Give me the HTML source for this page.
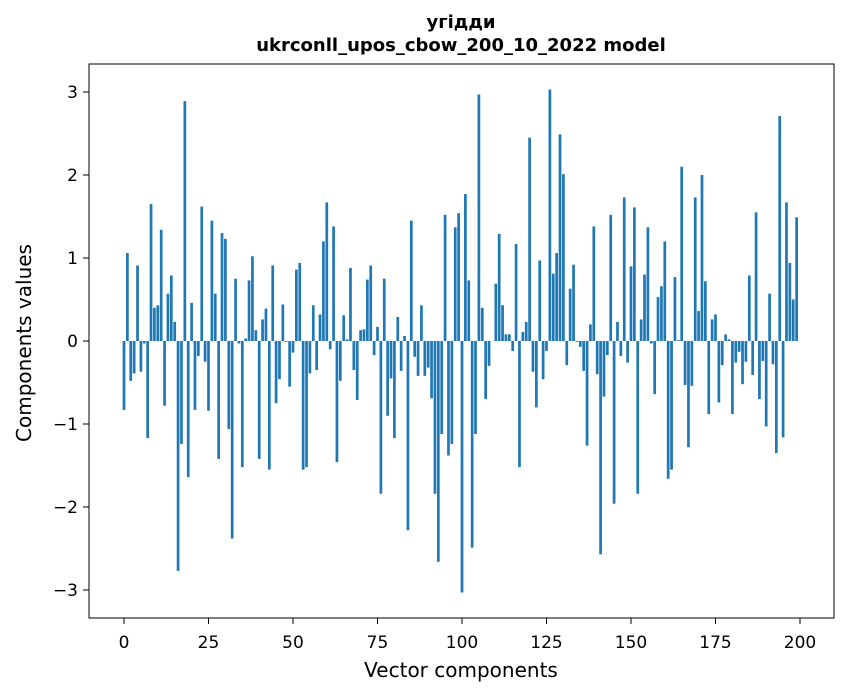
<!DOCTYPE html>
<html><head><meta charset="utf-8"><style>
html,body{margin:0;padding:0;background:#fff;}
svg{display:block;font-family:"DejaVu Sans","Liberation Sans",sans-serif;}
</style></head><body>
<svg id="chart" width="847" height="696" viewBox="0 0 847 696">
<rect x="0" y="0" width="847" height="696" fill="#fff"/>
<text x="461" y="28" text-anchor="middle" font-size="18" font-weight="bold">угідди</text>
<text x="461" y="51" text-anchor="middle" font-size="18" font-weight="bold">ukrconll_upos_cbow_200_10_2022 model</text>
<g id="bars"></g>
<rect x="89" y="64" width="745" height="554" fill="none" stroke="#000" stroke-width="1"/>
<g id="xticks"></g>
<g id="yticks"></g>
<text x="461" y="677" text-anchor="middle" font-size="20">Vector components</text>
<text x="31" y="343" text-anchor="middle" font-size="20" transform="rotate(-90 31 343)">Components values</text>
</svg>
<script>
const values = [
-0.83,1.06,-0.48,-0.39,0.91,-0.37,-0.03,-1.17,1.65,0.40,
0.43,1.34,-0.78,0.57,0.79,0.23,-2.77,-1.24,2.89,-1.64,
0.46,-0.83,-0.18,1.62,-0.25,-0.84,1.45,0.57,-1.42,1.30,
1.23,-1.06,-2.38,0.75,-0.03,-1.52,0.03,0.73,1.02,0.13,
-1.42,0.26,0.39,-1.55,0.91,-0.75,-0.46,0.44,-0.01,-0.55,
-0.14,0.86,0.94,-1.55,-1.52,-0.39,0.43,-0.35,0.32,1.20,
1.67,-0.10,1.38,-1.46,-0.48,0.31,0.02,0.88,-0.35,-0.71,
0.13,0.14,0.74,0.91,-0.17,0.17,-1.84,0.75,-0.90,-0.45,
-1.17,0.29,-0.36,0.06,-2.28,1.45,-0.19,-0.42,0.43,-0.42,
-0.32,-0.69,-1.84,-2.66,-1.12,1.52,-1.38,-1.24,1.37,1.54,
-3.03,1.77,0.73,-2.49,-1.12,2.97,0.40,-0.70,-0.30,0.00,
0.69,1.29,0.43,0.08,0.08,-0.12,1.17,-1.52,0.11,0.23,
2.45,-0.37,-0.80,0.97,-0.46,-0.12,3.03,0.81,1.06,2.49,
2.01,-0.29,0.63,0.92,-0.01,-0.07,-0.36,-1.26,0.20,1.38,
-0.40,-2.57,-0.67,-0.17,1.52,-1.96,0.23,-0.18,1.73,-0.26,
0.90,1.61,-1.84,0.26,0.80,1.37,-0.03,-0.64,0.53,0.66,
1.20,-1.66,-1.55,0.77,0.01,2.10,-0.53,-1.28,-0.54,1.73,
0.36,2.00,0.72,-0.88,0.26,0.32,-0.74,-0.29,0.08,0.02,
-0.88,-0.26,-0.13,-0.52,-0.25,0.79,-0.41,1.55,-0.70,-0.24,
-1.03,0.57,-0.28,-1.35,2.71,-1.16,1.67,0.94,0.50,1.49
];
const xTickValues = [0,25,50,75,100,125,150,175,200];
const yTickValues = [-3,-2,-1,0,1,2,3];
const NS = "http://www.w3.org/2000/svg";
function xScale(v){ return 124 + v * 3.38; }
function yScale(v){ return 341 - v * 83; }
const barsG = document.getElementById('bars');
values.forEach(function(v, i){
  const r = document.createElementNS(NS, 'rect');
  const w = 0.8 * 3.38;
  r.setAttribute('x', xScale(i) - w/2);
  r.setAttribute('width', w);
  r.setAttribute('y', Math.min(yScale(v), yScale(0)));
  r.setAttribute('height', Math.abs(yScale(v) - yScale(0)));
  r.setAttribute('fill', '#1f77b4');
  
  
  barsG.appendChild(r);
});
const xg = document.getElementById('xticks');
xTickValues.forEach(function(t){
  const l = document.createElementNS(NS, 'line');
  l.setAttribute('x1', xScale(t)); l.setAttribute('x2', xScale(t));
  l.setAttribute('y1', 618); l.setAttribute('y2', 624);
  l.setAttribute('stroke', '#000');
  
  
  xg.appendChild(l);
  const tx = document.createElementNS(NS, 'text');
  tx.setAttribute('x', xScale(t)); tx.setAttribute('y', 648);
  tx.setAttribute('text-anchor', 'middle'); tx.setAttribute('font-size', '17');
  tx.textContent = String(t);
  
  
  xg.appendChild(tx);
});
const yg = document.getElementById('yticks');
yTickValues.forEach(function(t){
  const l = document.createElementNS(NS, 'line');
  l.setAttribute('x1', 83); l.setAttribute('x2', 89);
  l.setAttribute('y1', yScale(t)); l.setAttribute('y2', yScale(t));
  l.setAttribute('stroke', '#000');
  
  
  yg.appendChild(l);
  const tx = document.createElementNS(NS, 'text');
  tx.setAttribute('x', 78); tx.setAttribute('y', yScale(t) + 6);
  tx.setAttribute('text-anchor', 'end'); tx.setAttribute('font-size', '17');
  tx.textContent = t < 0 ? '\u2212' + Math.abs(t) : String(t);
  
  
  yg.appendChild(tx);
});
</script>
</body></html>
